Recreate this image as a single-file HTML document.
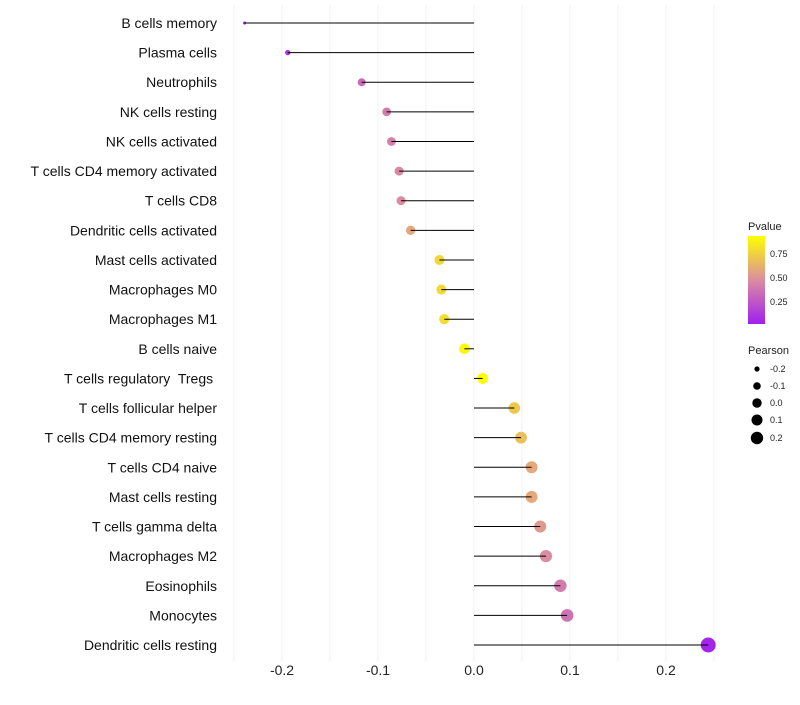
<!DOCTYPE html>
<html><head><meta charset="utf-8"><style>
body{margin:0;background:#fff;font-family:"Liberation Sans",sans-serif}
text{white-space:pre}
</style></head><body>
<svg id="c" width="800" height="700" xmlns="http://www.w3.org/2000/svg">
<defs><linearGradient id="g" x1="0" y1="1" x2="0" y2="0">
<stop offset="0" stop-color="#a020f0"/><stop offset="0.5" stop-color="#db8ca0"/><stop offset="1" stop-color="#ffff00"/></linearGradient></defs>
<g id="grid"></g><g id="dots"></g><g id="marks"></g><g id="labels"></g>
<g font-size="9" fill="#222">
<text x="748" y="230" font-size="11">Pvalue</text>
<rect x="748" y="236" width="17" height="88" fill="url(#g)"/>
<text x="770" y="257">0.75</text><text x="770" y="281">0.50</text><text x="770" y="305">0.25</text>
</g>
<g font-size="9" fill="#222">
<text x="748" y="354" font-size="11">Pearson</text>
<circle cx="757" cy="369" r="2.6" fill="#000"/><text x="770" y="372">-0.2</text>
<circle cx="757" cy="386" r="3.8" fill="#000"/><text x="770" y="389">-0.1</text>
<circle cx="757" cy="403" r="4.7" fill="#000"/><text x="770" y="406">0.0</text>
<circle cx="757" cy="420" r="5.5" fill="#000"/><text x="770" y="423">0.1</text>
<circle cx="757" cy="438" r="6.2" fill="#000"/><text x="770" y="441">0.2</text>
</g>
</svg>
<script>
const categories=["B cells memory","Plasma cells","Neutrophils","NK cells resting","NK cells activated","T cells CD4 memory activated","T cells CD8","Dendritic cells activated","Mast cells activated","Macrophages M0","Macrophages M1","B cells naive","T cells regulatory  Tregs ","T cells follicular helper","T cells CD4 memory resting","T cells CD4 naive","Mast cells resting","T cells gamma delta","Macrophages M2","Eosinophils","Monocytes","Dendritic cells resting"];
const pearson=[-0.239,-0.194,-0.117,-0.091,-0.086,-0.078,-0.076,-0.066,-0.036,-0.034,-0.031,-0.010,0.009,0.042,0.049,0.060,0.060,0.069,0.075,0.090,0.097,0.244];
const pvalue=[0.01,0.1,0.35,0.42,0.44,0.48,0.5,0.62,0.82,0.83,0.85,0.96,0.99,0.76,0.72,0.62,0.62,0.56,0.5,0.42,0.38,0.02];
const ticks=[-0.2,-0.1,0.0,0.1,0.2];
const tickLabels=["-0.2","-0.1","0.0","0.1","0.2"];
const NS="http://www.w3.org/2000/svg";
const x=v=>474+v*960;
const y=i=>23+i*(622/21);
const r=v=>Math.sqrt(2.25+Math.max(0,v+0.24)/0.484*54);
function col(p){const a=[160,32,240],m=[219,140,160],b=[255,255,0];let s,e,t;if(p<0.5){s=a;e=m;t=p/0.5}else{s=m;e=b;t=(p-0.5)/0.5}
return "rgb("+s.map((c,k)=>Math.round(c+(e[k]-c)*t)).join(",")+")";}
function mk(t,at,parent){const el=document.createElementNS(NS,t);for(const k in at)el.setAttribute(k,at[k]);parent.appendChild(el);return el;}
const grid=document.getElementById('grid'),marks=document.getElementById('marks'),dots=document.getElementById('dots'),labels=document.getElementById('labels');
for(let v=-0.25;v<=0.251;v+=0.05){const l=mk('line',{x1:x(v),x2:x(v),y1:5,y2:662,stroke:'#f0f0f0','stroke-width':1},grid);

}
ticks.forEach((v,i)=>{const t=mk('text',{x:x(v),y:675,'text-anchor':'middle','font-size':14,fill:'#222'},labels);t.textContent=tickLabels[i];

});
categories.forEach((c,i)=>{
const t=mk('text',{x:217,y:y(i)+5,'text-anchor':'end','font-size':14,fill:'#111'},labels);t.textContent=c;


const d=mk('circle',{cx:x(pearson[i]),cy:y(i),r:r(pearson[i]),fill:col(pvalue[i])},dots);


const l=mk('line',{x1:x(0),x2:x(pearson[i]),y1:y(i),y2:y(i),stroke:'#000','stroke-width':1},marks);


});
</script>
</body></html>
